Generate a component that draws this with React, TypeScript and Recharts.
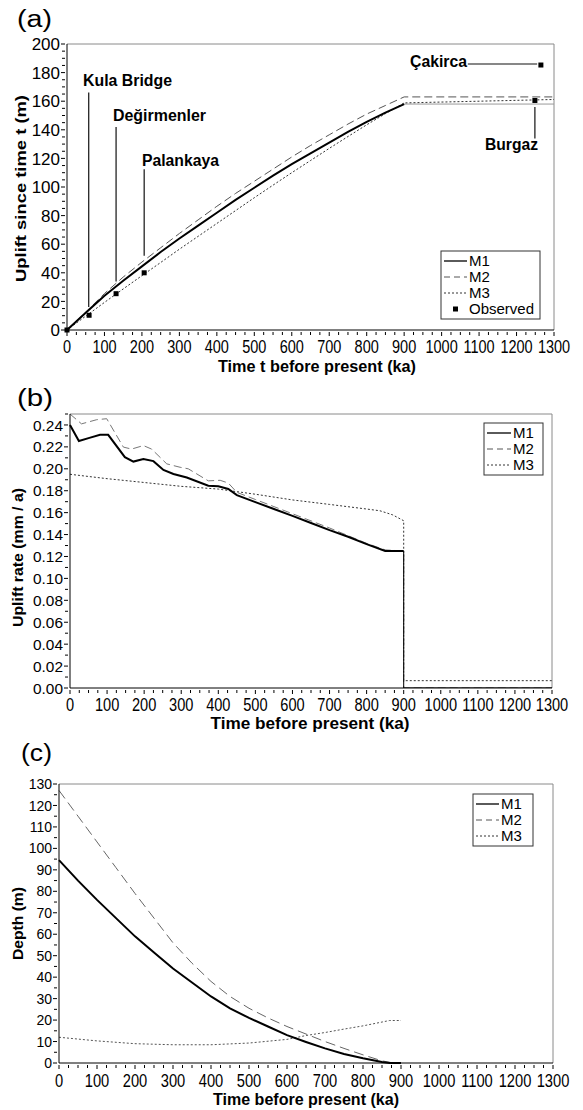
import React from "react";
import {
  ComposedChart,
  LineChart,
  Line,
  XAxis,
  YAxis,
  ReferenceLine,
  Scatter,
} from "recharts";

const FONT = '"Liberation Sans", Arial, Helvetica, sans-serif';

// shared x axis (ka)
const timeMajor = [0, 100, 200, 300, 400, 500, 600, 700, 800, 900, 1000, 1100, 1200, 1300];
const upliftMajor = [0, 20, 40, 60, 80, 100, 120, 140, 160, 180, 200];
const rateMajor = [0, 0.02, 0.04, 0.06, 0.08, 0.1, 0.12, 0.14, 0.16, 0.18, 0.2, 0.22, 0.24];
const depthMajor = [0, 10, 20, 30, 40, 50, 60, 70, 80, 90, 100, 110, 120, 130];

// (a) uplift since time t (m)
const upliftM1 = [
  { t: 0, v: 0 }, { t: 50, v: 12 }, { t: 100, v: 24 }, { t: 150, v: 34.5 }, { t: 200, v: 44.5 },
  { t: 250, v: 54.5 }, { t: 300, v: 64 }, { t: 350, v: 73 }, { t: 400, v: 82 }, { t: 450, v: 91 },
  { t: 500, v: 99.5 }, { t: 550, v: 108 }, { t: 600, v: 116 }, { t: 650, v: 123.5 }, { t: 700, v: 131 },
  { t: 750, v: 138.5 }, { t: 800, v: 145.5 }, { t: 850, v: 152 }, { t: 900, v: 158 },
];
const upliftM1Tail = [{ t: 900, v: 158 }, { t: 1300, v: 158 }];
const upliftM2 = [
  { t: 0, v: 0 }, { t: 50, v: 12.5 }, { t: 100, v: 25.5 }, { t: 150, v: 37 }, { t: 200, v: 47.5 },
  { t: 250, v: 57.5 }, { t: 300, v: 67.5 }, { t: 350, v: 77 }, { t: 400, v: 86.5 }, { t: 450, v: 95.5 },
  { t: 500, v: 104 }, { t: 550, v: 112.5 }, { t: 600, v: 121 }, { t: 650, v: 129 }, { t: 700, v: 136.5 },
  { t: 750, v: 144 }, { t: 800, v: 151 }, { t: 850, v: 157 }, { t: 900, v: 163 }, { t: 1300, v: 163 },
];
const upliftM3 = [
  { t: 0, v: 0 }, { t: 50, v: 9.7 }, { t: 100, v: 19.3 }, { t: 150, v: 28.7 }, { t: 200, v: 38 },
  { t: 250, v: 47.2 }, { t: 300, v: 56.5 }, { t: 350, v: 65.5 }, { t: 400, v: 74.5 }, { t: 450, v: 83.5 },
  { t: 500, v: 92.5 }, { t: 550, v: 101.3 }, { t: 600, v: 110 }, { t: 650, v: 118.5 }, { t: 700, v: 127 },
  { t: 750, v: 135.3 }, { t: 800, v: 143.5 }, { t: 850, v: 151.3 }, { t: 900, v: 158.8 }, { t: 1300, v: 161.2 },
];
const observed = [
  { t: 0, v: 0 }, { t: 59, v: 10.3 }, { t: 131, v: 25.4 }, { t: 206, v: 40 },
  { t: 1249, v: 160.5 }, { t: 1265, v: 185.3 },
];
// leader lines for the site names
const leaders = [
  [{ x: 58, y: 166 }, { x: 58, y: 16 }],
  [{ x: 131, y: 142 }, { x: 131, y: 34 }],
  [{ x: 206, y: 112.5 }, { x: 206, y: 52 }],
  [{ x: 1070, y: 186 }, { x: 1255, y: 186 }],
  [{ x: 1249, y: 156 }, { x: 1249, y: 134 }],
];

// (b) uplift rate (mm / a)
const rateM1 = [
  { t: 0, v: 0.24 }, { t: 24, v: 0.2253 }, { t: 50, v: 0.228 }, { t: 81, v: 0.231 }, { t: 103, v: 0.231 },
  { t: 148, v: 0.2106 }, { t: 171, v: 0.2066 }, { t: 198, v: 0.209 }, { t: 225, v: 0.207 }, { t: 252, v: 0.199 },
  { t: 279, v: 0.1953 }, { t: 315, v: 0.192 }, { t: 373, v: 0.1846 }, { t: 400, v: 0.184 }, { t: 427, v: 0.1816 },
  { t: 450, v: 0.176 }, { t: 500, v: 0.1696 }, { t: 550, v: 0.1633 }, { t: 600, v: 0.157 }, { t: 650, v: 0.1505 },
  { t: 700, v: 0.144 }, { t: 750, v: 0.138 }, { t: 800, v: 0.1313 }, { t: 850, v: 0.125 }, { t: 900, v: 0.125 },
];
const rateM1Tail = [{ t: 900, v: 0.125 }, { t: 900, v: 0 }, { t: 1300, v: 0 }];
const rateM2 = [
  { t: 0, v: 0.25 }, { t: 31, v: 0.241 }, { t: 72, v: 0.2448 }, { t: 99, v: 0.2457 }, { t: 144, v: 0.2198 },
  { t: 166, v: 0.218 }, { t: 198, v: 0.2212 }, { t: 220, v: 0.218 }, { t: 261, v: 0.2045 }, { t: 297, v: 0.2014 },
  { t: 319, v: 0.2 }, { t: 373, v: 0.189 }, { t: 405, v: 0.1895 }, { t: 427, v: 0.187 }, { t: 450, v: 0.1785 },
  { t: 500, v: 0.172 }, { t: 550, v: 0.1655 }, { t: 600, v: 0.159 }, { t: 650, v: 0.1525 }, { t: 700, v: 0.146 },
  { t: 750, v: 0.139 }, { t: 800, v: 0.132 }, { t: 850, v: 0.126 }, { t: 900, v: 0.125 }, { t: 900, v: 0 },
  { t: 1300, v: 0 },
];
const rateM3 = [
  { t: 0, v: 0.195 }, { t: 100, v: 0.191 }, { t: 200, v: 0.1875 }, { t: 300, v: 0.184 }, { t: 400, v: 0.1815 },
  { t: 500, v: 0.1768 }, { t: 600, v: 0.1716 }, { t: 700, v: 0.1675 }, { t: 800, v: 0.1633 }, { t: 836, v: 0.1617 },
  { t: 870, v: 0.158 }, { t: 900, v: 0.1526 }, { t: 900, v: 0.0067 }, { t: 1300, v: 0.0067 },
];

// (c) depth (m)
const depthM1 = [
  { t: 0, v: 94.5 }, { t: 50, v: 85 }, { t: 100, v: 76 }, { t: 150, v: 67.5 }, { t: 200, v: 59 },
  { t: 250, v: 51.5 }, { t: 300, v: 44 }, { t: 350, v: 37.5 }, { t: 400, v: 31 }, { t: 450, v: 25.5 },
  { t: 500, v: 21 }, { t: 550, v: 17 }, { t: 600, v: 13 }, { t: 650, v: 9.8 }, { t: 700, v: 6.8 },
  { t: 750, v: 4.2 }, { t: 800, v: 2.2 }, { t: 850, v: 0.5 }, { t: 870, v: 0 }, { t: 900, v: 0 },
];
const depthM2 = [
  { t: 0, v: 127 }, { t: 50, v: 115 }, { t: 100, v: 103 }, { t: 150, v: 91 }, { t: 200, v: 79 },
  { t: 250, v: 67.5 }, { t: 300, v: 56 }, { t: 350, v: 46.5 }, { t: 400, v: 38 }, { t: 450, v: 31 },
  { t: 500, v: 25.5 }, { t: 550, v: 21 }, { t: 600, v: 17 }, { t: 650, v: 13.5 }, { t: 700, v: 10 },
  { t: 750, v: 6.8 }, { t: 800, v: 3.8 }, { t: 850, v: 1 }, { t: 880, v: 0 }, { t: 900, v: 0 },
];
const depthM3 = [
  { t: 0, v: 12 }, { t: 100, v: 10.3 }, { t: 200, v: 9 }, { t: 300, v: 8.5 }, { t: 400, v: 8.5 },
  { t: 500, v: 9.3 }, { t: 600, v: 11 }, { t: 650, v: 12.8 }, { t: 700, v: 14.2 }, { t: 750, v: 15.8 },
  { t: 800, v: 17.3 }, { t: 870, v: 19.8 }, { t: 900, v: 19.8 },
];

// major ticks plus the unlabelled minor ones in between
function withMinor(major: number[], parts: number) {
  const out: number[] = [];
  for (let i = 0; i < major.length - 1; i++) {
    const step = (major[i + 1] - major[i]) / parts;
    for (let k = 0; k < parts; k++) out.push(+(major[i] + k * step).toFixed(4));
  }
  out.push(major[major.length - 1]);
  return out;
}

const timeTicks = withMinor(timeMajor, 4);
const isMajor = (list: number[], v: number) => list.some((m) => Math.abs(m - v) < 1e-6);

const M1 = { stroke: "#000", strokeWidth: 2 };
const M2 = { stroke: "#555", strokeWidth: 1, strokeDasharray: "8 4" };
const M3 = { stroke: "#333", strokeWidth: 1, strokeDasharray: "2 2" };

function XTick(props: any) {
  const { x, y, payload, fontSize, stretch } = props;
  const v = payload.value;
  const major = isMajor(timeMajor, v);
  return (
    <g>
      <line x1={x} y1={y} x2={x} y2={y + (major ? 4 : 3)} stroke="#000" />
      {major && (
        <text
          transform={`translate(${x},${y + 8 + 0.716 * fontSize * stretch}) scale(1,${stretch})`}
          textAnchor="middle"
          fontSize={fontSize}
          fontFamily={FONT}
          fill="#000"
        >
          {v}
        </text>
      )}
    </g>
  );
}

function YTick(props: any) {
  const { x, y, payload, majors, fontSize, digits } = props;
  const v = payload.value;
  const major = isMajor(majors, v);
  return (
    <g>
      <line x1={x - (major ? 4 : 3)} y1={y} x2={x} y2={y} stroke="#000" />
      {major && (
        <text x={x - 5} y={y} dy="0.36em" textAnchor="end" fontSize={fontSize} fontFamily={FONT} fill="#000">
          {v.toFixed(digits)}
        </text>
      )}
    </g>
  );
}

function Legend({ x, y, w, rowH, sample, names, observed }: any) {
  const rows = names.length + (observed ? 1 : 0);
  const styles = [M1, M2, M3];
  return (
    <g fontFamily={FONT} fontSize={15}>
      <rect x={x} y={y} width={w} height={rows * rowH + 4} fill="#fff" stroke="#333" />
      {names.map((n: string, i: number) => {
        const cy = y + 2 + rowH * (i + 0.5);
        const s = styles[i];
        return (
          <g key={n}>
            <line x1={x + 3} x2={x + 3 + sample} y1={cy} y2={cy} stroke={s.stroke} strokeWidth={i === 0 ? 1.3 : 1}
              strokeDasharray={i === 1 ? "6 4" : i === 2 ? "2 2" : undefined} />
            <text x={x + sample + 5} y={cy} dy="0.36em">{n}</text>
          </g>
        );
      })}
      {observed && (
        <g>
          <rect x={x + 3 + sample / 2 - 2.5} y={y + 2 + rowH * 3.5 - 2.5} width={5} height={5} fill="#000" />
          <text x={x + sample + 5} y={y + 2 + rowH * 3.5} dy="0.36em">Observed</text>
        </g>
      )}
    </g>
  );
}

const bold = { fontFamily: FONT, fontWeight: 700 as const, fill: "#000" };

export default function App() {
  const xAxisProps = {
    type: "number" as const,
    dataKey: "t",
    domain: [0, 1300],
    ticks: timeTicks,
    interval: 0 as const,
    tickSize: 0,
    tickLine: false,
    axisLine: { stroke: "#000" },
    allowDuplicatedCategory: false,
  };
  const frame = "#8a8a8a";

  return (
    <div style={{ position: "absolute", left: 0, top: 0, width: 583, height: 1110, background: "#fff" }}>
      <div style={{ position: "absolute", left: 0, top: 0 }}>
        <ComposedChart width={583} height={370} margin={{ top: 44, right: 29, left: 0, bottom: 0 }}>
          <XAxis {...xAxisProps} height={40} tick={(p: any) => <XTick {...p} fontSize={14.5} stretch={1.3} />} />
          <YAxis
            type="number"
            width={67}
            domain={[0, 200]}
            ticks={withMinor(upliftMajor, 4)}
            interval={0}
            tickSize={0}
            tickLine={false}
            axisLine={{ stroke: "#000" }}
            tick={(p: any) => <YTick {...p} majors={upliftMajor} fontSize={17} digits={0} />}
          />
          <ReferenceLine y={200} stroke={frame} />
          <ReferenceLine x={1300} stroke={frame} />
          {leaders.map((seg, i) => (
            <ReferenceLine key={i} segment={seg} stroke="#111" strokeWidth={1.2} />
          ))}
          <Line data={upliftM1Tail} dataKey="v" type="linear" dot={false} isAnimationActive={false} stroke="#999" strokeWidth={1} />
          <Line data={upliftM3} dataKey="v" type="linear" dot={false} isAnimationActive={false} {...M3} />
          <Line data={upliftM2} dataKey="v" type="linear" dot={false} isAnimationActive={false} {...M2} />
          <Line data={upliftM1} dataKey="v" type="linear" dot={false} isAnimationActive={false} {...M1} />
          <Scatter
            data={observed}
            dataKey="v"
            isAnimationActive={false}
            shape={(p: any) => <rect x={p.cx - 2.5} y={p.cy - 2.5} width={5} height={5} fill="#000" />}
          />
        </ComposedChart>
      </div>

      <div style={{ position: "absolute", left: 0, top: 370 }}>
        <LineChart width={583} height={375} margin={{ top: 44, right: 31, left: 0, bottom: 0 }}>
          <XAxis {...xAxisProps} height={57} tick={(p: any) => <XTick {...p} fontSize={14.6} stretch={1.2} />} />
          <YAxis
            type="number"
            width={70}
            domain={[0, 0.25]}
            allowDataOverflow
            ticks={[...withMinor(rateMajor, 2), 0.25]}
            interval={0}
            tickSize={0}
            tickLine={false}
            axisLine={{ stroke: "#000" }}
            tick={(p: any) => <YTick {...p} majors={rateMajor} fontSize={15.4} digits={2} />}
          />
          <ReferenceLine y={0.25} stroke={frame} />
          <ReferenceLine x={1300} stroke={frame} />
          <Line data={rateM3} dataKey="v" type="linear" dot={false} isAnimationActive={false} {...M3} />
          <Line data={rateM2} dataKey="v" type="linear" dot={false} isAnimationActive={false} {...M2} stroke="#777" />
          <Line data={rateM1Tail} dataKey="v" type="linear" dot={false} isAnimationActive={false} stroke="#000" strokeWidth={1} />
          <Line data={rateM1} dataKey="v" type="linear" dot={false} isAnimationActive={false} {...M1} />
        </LineChart>
      </div>

      <div style={{ position: "absolute", left: 0, top: 745 }}>
        <LineChart width={583} height={365} margin={{ top: 39, right: 30, left: 0, bottom: 0 }}>
          <XAxis {...xAxisProps} height={47} tick={(p: any) => <XTick {...p} fontSize={14.7} stretch={1.3} />} />
          <YAxis
            type="number"
            width={59}
            domain={[0, 130]}
            ticks={withMinor(depthMajor, 2)}
            interval={0}
            tickSize={0}
            tickLine={false}
            axisLine={{ stroke: "#000" }}
            tick={(p: any) => <YTick {...p} majors={depthMajor} fontSize={14} digits={0} />}
          />
          <ReferenceLine y={130} stroke={frame} />
          <ReferenceLine x={1300} stroke={frame} />
          <Line data={depthM3} dataKey="v" type="linear" dot={false} isAnimationActive={false} {...M3} stroke="#555" />
          <Line data={depthM2} dataKey="v" type="linear" dot={false} isAnimationActive={false} {...M2} stroke="#666" strokeDasharray="10 5" />
          <Line data={depthM1} dataKey="v" type="linear" dot={false} isAnimationActive={false} {...M1} />
        </LineChart>
      </div>

      {/* panel letters, axis titles, site names and legends */}
      <svg width={583} height={1110} style={{ position: "absolute", left: 0, top: 0, pointerEvents: "none" }}>
        <text x={17} y={27} fontSize={23} fontFamily={FONT} textLength={35} lengthAdjust="spacingAndGlyphs">(a)</text>
        <text x={17} y={406} fontSize={23} fontFamily={FONT} textLength={36} lengthAdjust="spacingAndGlyphs">(b)</text>
        <text x={21} y={761} fontSize={23} fontFamily={FONT} textLength={31} lengthAdjust="spacingAndGlyphs">(c)</text>

        <text {...bold} x={317} y={372} fontSize={16} textAnchor="middle" textLength={198} lengthAdjust="spacingAndGlyphs">Time t before present (ka)</text>
        <text {...bold} x={310} y={729} fontSize={17} textAnchor="middle" textLength={199} lengthAdjust="spacingAndGlyphs">Time before present (ka)</text>
        <text {...bold} x={306} y={1105} fontSize={16} textAnchor="middle" textLength={186} lengthAdjust="spacingAndGlyphs">Time before present (ka)</text>

        <text {...bold} transform="translate(26,188.5) rotate(-90)" fontSize={15} textAnchor="middle" textLength={187} lengthAdjust="spacingAndGlyphs">Uplift since time t (m)</text>
        <text {...bold} transform="translate(23,557.5) rotate(-90)" fontSize={15} textAnchor="middle" textLength={139} lengthAdjust="spacingAndGlyphs">Uplift rate (mm / a)</text>
        <text {...bold} transform="translate(23,923.5) rotate(-90)" fontSize={15} textAnchor="middle" textLength={73} lengthAdjust="spacingAndGlyphs">Depth (m)</text>

        <text {...bold} x={83} y={86} fontSize={15.8} textLength={89} lengthAdjust="spacingAndGlyphs">Kula Bridge</text>
        <text {...bold} x={113} y={121} fontSize={15.8} textLength={93} lengthAdjust="spacingAndGlyphs">Değirmenler</text>
        <text {...bold} x={142} y={166} fontSize={15.8} textLength={77} lengthAdjust="spacingAndGlyphs">Palankaya</text>
        <text {...bold} x={410} y={67} fontSize={15.8} textLength={57} lengthAdjust="spacingAndGlyphs">Çakirca</text>
        <text {...bold} x={485} y={150} fontSize={15.8} textLength={53} lengthAdjust="spacingAndGlyphs">Burgaz</text>

        <Legend x={441} y={251} w={99} rowH={16} sample={23} names={["M1", "M2", "M3"]} observed />
        <Legend x={484} y={423} w={59} rowH={16} sample={24} names={["M1", "M2", "M3"]} />
        <Legend x={473} y={794} w={60} rowH={16} sample={23} names={["M1", "M2", "M3"]} />
      </svg>
    </div>
  );
}
